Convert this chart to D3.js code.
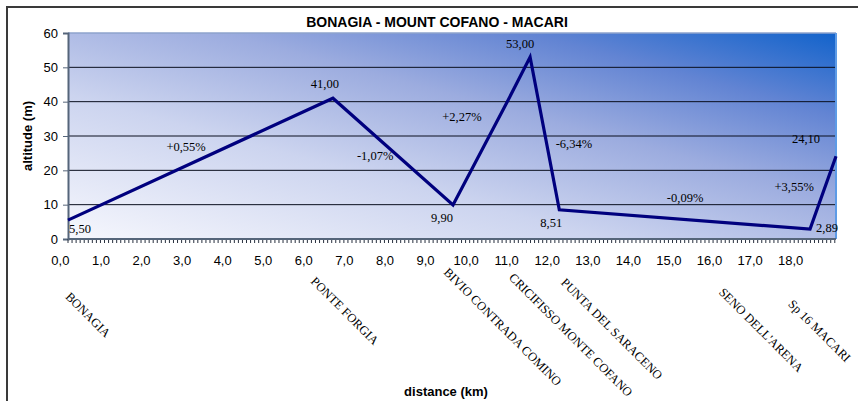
<!DOCTYPE html>
<html>
<head>
<meta charset="utf-8">
<script src="https://cdn.jsdelivr.net/npm/d3@7"></script>
<style>
  html, body { margin: 0; padding: 0; background: #fff; }
  svg { display: block; }
</style>
</head>
<body>
<svg id="chart" width="858" height="401"></svg>
<script>
// ---------- DATA ----------
const title = "BONAGIA - MOUNT COFANO - MACARI";
const xTitle = "distance (km)";
const yTitle = "altitude (m)";

// profile vertices: distance (km) and altitude (m)
const distKm   = [0.20, 6.73, 9.69, 11.05, 11.59, 12.31, 18.49, 19.13];
const altitude = [5.50, 41.00, 9.90, 40.5, 53.00, 8.51, 2.89, 24.10];

// labelled altitude points (index into the profile)
const altLabelIdx = [0, 1, 2, 4, 5, 6, 7];

// segment gradients (%) and where their labels sit (km, m)
const gradeValues = [0.55, -1.07, 2.27, -6.34, -0.09, 3.55];
const gradeKm     = [3.11, 7.77, 9.91, 12.67, 15.41, 18.10];
const gradeAlt    = [25.6, 23.0, 34.4, 26.5, 10.8, 14.0];

// named stops along the route
const stopNames = ["BONAGIA", "PONTE FORGIA", "BIVIO CONTRADA COMINO",
  "CRICIFISSO MONTE COFANO", "PUNTA DEL SARACENO", "SENO DELL'ARENA", "Sp 16 MACARI"];
const stopKm = [0.69, 7.02, 10.91, 12.59, 13.60, 17.28, 18.72];

// axis ticks
const yTicks = [0, 10, 20, 30, 40, 50, 60];
const xTicks = d3.range(0, 19, 1);

// ---------- LAYOUT ----------
const svg = d3.select("#chart");
const plotLeft = 68, plotRight = 836, plotTop = 33, plotBottom = 239;
const stopCenterY = [315, 311, 327, 335, 329, 330, 331];   // label centre heights (px)
const altLabelOffset = [[1, 13, "start"], [-8, -10, "middle"], [-11, 17, "middle"],
  [-10, -9, "middle"], [-8, 17, "middle"], [17, 3, "middle"], [-30, -13, "middle"]];

const x = d3.scaleLinear().domain([0.20, 19.13]).range([plotLeft, plotRight]);
const y = d3.scaleLinear().domain([0, 60]).range([plotBottom, plotTop]);

const comma = f => s => d3.format(f)(s).replace(".", ",").replace("−", "-");
const fmt1 = comma(".1f"), fmt2 = comma(".2f");

// outer frame
svg.append("rect").attr("x", 7).attr("y", 7).attr("width", 900).attr("height", 500)
  .attr("fill", "none").attr("stroke", "#3a3a3a").attr("stroke-width", 2);

// background gradient
const defs = svg.append("defs");
const grad = defs.append("linearGradient").attr("id", "bg")
  .attr("x1", 0).attr("y1", 1).attr("x2", 1).attr("y2", 0);
[[0, "#f6f7fd"], [0.35, "#ccd4ef"], [0.6, "#9cacdf"], [0.8, "#6284d3"], [1, "#1263cb"]]
  .forEach(([o, c]) => grad.append("stop").attr("offset", o).attr("stop-color", c));

svg.append("rect").attr("x", plotLeft).attr("y", plotTop)
  .attr("width", plotRight - plotLeft).attr("height", plotBottom - plotTop)
  .attr("fill", "url(#bg)");

// gridlines
svg.append("g").selectAll("line").data(yTicks.filter(v => v > 0 && v < 60)).join("line")
  .attr("x1", plotLeft).attr("x2", plotRight)
  .attr("y1", d => y(d)).attr("y2", d => y(d))
  .attr("stroke", "#0a0f1e").attr("stroke-width", 1);

// plot borders
svg.append("line").attr("x1", plotLeft).attr("x2", plotRight)
  .attr("y1", plotTop).attr("y2", plotTop).attr("stroke", "#8ea3cc").attr("stroke-width", 1.5);
svg.append("line").attr("x1", plotRight).attr("x2", plotRight)
  .attr("y1", plotTop).attr("y2", plotBottom).attr("stroke", "#5d9be6").attr("stroke-width", 2);

// y axis
const yAxis = d3.axisLeft(y).tickValues(yTicks).tickSize(5).tickPadding(5).tickFormat(d3.format("d"));
const gy = svg.append("g").attr("transform", `translate(${plotLeft},0)`).call(yAxis);
gy.select(".domain").attr("stroke", "#55657a").attr("stroke-width", 2);
gy.selectAll(".tick line").attr("stroke", "#55657a");
gy.selectAll("text").attr("font-family", "Liberation Sans, Arial, sans-serif")
  .attr("font-size", 13).attr("fill", "#000");

// x axis: minor comb + labels
const minor = d3.range(2, 192, 1).map(v => v / 10);
svg.append("g").selectAll("line").data(minor).join("line")
  .attr("x1", d => x(d)).attr("x2", d => x(d))
  .attr("y1", plotBottom).attr("y2", plotBottom + 4)
  .attr("stroke", "#2a3240").attr("stroke-width", 1);
svg.append("line").attr("x1", plotLeft).attr("x2", plotRight)
  .attr("y1", plotBottom).attr("y2", plotBottom).attr("stroke", "#55657a").attr("stroke-width", 2);
const xAxis = d3.axisBottom(x).tickValues(xTicks).tickSize(0).tickPadding(17).tickFormat(fmt1);
const gx = svg.append("g").attr("transform", `translate(0,${plotBottom})`).call(xAxis);
gx.select(".domain").remove();
gx.selectAll("text").attr("font-family", "Liberation Sans, Arial, sans-serif")
  .attr("font-size", 13).attr("fill", "#000");

// profile line
const pts = distKm.map((d, i) => [d, altitude[i]]);
svg.append("path").datum(pts)
  .attr("d", d3.line().x(d => x(d[0])).y(d => y(d[1])))
  .attr("fill", "none").attr("stroke", "#00007e").attr("stroke-width", 3.2)
  .attr("stroke-linejoin", "miter");

// altitude labels
svg.append("g").selectAll("text").data(altLabelIdx).join("text")
  .attr("x", (d, i) => x(distKm[d]) + altLabelOffset[i][0])
  .attr("y", (d, i) => y(altitude[d]) + altLabelOffset[i][1])
  .attr("text-anchor", (d, i) => altLabelOffset[i][2])
  .attr("font-family", "Liberation Serif, Times New Roman, serif")
  .attr("font-size", 12.5).attr("fill", "#000")
  .text(d => fmt2(altitude[d]));

// gradient labels
svg.append("g").selectAll("text").data(gradeValues).join("text")
  .attr("x", (d, i) => x(gradeKm[i]))
  .attr("y", (d, i) => y(gradeAlt[i]))
  .attr("text-anchor", "middle")
  .attr("font-family", "Liberation Serif, Times New Roman, serif")
  .attr("font-size", 12.5).attr("fill", "#000")
  .text(d => (d > 0 ? "+" : "") + fmt2(d) + "%");

// stop labels (rotated)
svg.append("g").selectAll("text").data(stopNames).join("text")
  .attr("transform", (d, i) => `translate(${x(stopKm[i])},${stopCenterY[i]}) rotate(45)`)
  .attr("text-anchor", "middle").attr("dominant-baseline", "central")
  .attr("font-family", "Liberation Serif, Times New Roman, serif")
  .attr("font-size", 12.5).attr("fill", "#000")
  .text(d => d);

// titles
svg.append("text").attr("x", 437).attr("y", 27).attr("text-anchor", "middle")
  .attr("font-family", "Liberation Sans, Arial, sans-serif").attr("font-weight", "bold")
  .attr("font-size", 14).text(title);
svg.append("text").attr("x", 446).attr("y", 396).attr("text-anchor", "middle")
  .attr("font-family", "Liberation Sans, Arial, sans-serif").attr("font-weight", "bold")
  .attr("font-size", 13).text(xTitle);
svg.append("text").attr("transform", "translate(32,136) rotate(-90)").attr("text-anchor", "middle")
  .attr("font-family", "Liberation Sans, Arial, sans-serif").attr("font-weight", "bold")
  .attr("font-size", 13).text(yTitle);
</script>
</body>
</html>
